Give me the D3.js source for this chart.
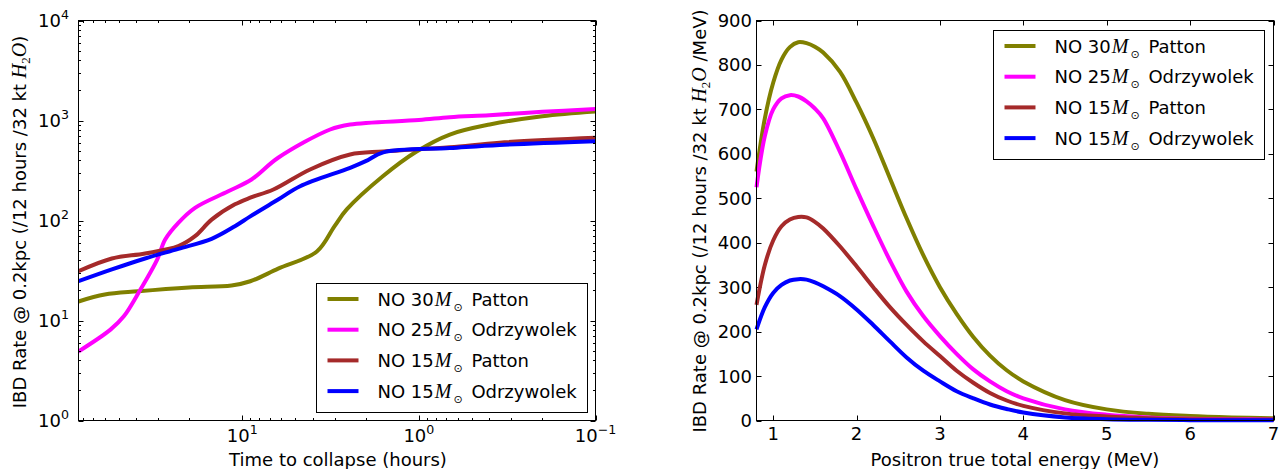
<!DOCTYPE html>
<html><head><meta charset="utf-8">
<script src="https://cdn.jsdelivr.net/npm/d3@7"></script>
<style>
body{margin:0;background:#fff}
text{font-family:"DejaVu Sans",sans-serif;fill:#000}
</style>
</head><body>
<svg id="c" width="1281" height="469"></svg>
<script>
// ---------------- DATA ----------------
const seriesNames = ["NO 30", "NO 25", "NO 15", "NO 15"];
const seriesAuthors = ["Patton", "Odrzywolek", "Patton", "Odrzywolek"];
const seriesColors = ["#808000", "#ff00ff", "#a52a2a", "#0000ff"];

// Left panel: rate vs time to collapse (hours)
const hours30P = [84.5, 60, 38.7, 20, 11.5, 9.0, 6.26, 3.78, 3.0, 2.56, 1.60, 1.03, 0.668, 0.397, 0.2, 0.1];
const rate30P  = [15.5, 18.2, 19.6, 21.4, 22.4, 24.7, 33, 49, 88, 129, 277, 490, 724, 912, 1104, 1230];
const hours25O = [84.5, 55.7, 46.8, 37.7, 30.3, 27.3, 23.0, 18.5, 12.0, 8.86, 6.26, 3.18, 2.45, 1.0, 0.668, 0.4, 0.2, 0.1];
const rate25O  = [4.9, 8.1, 11, 20.4, 40.7, 64.6, 94.8, 134, 196, 257, 424, 813, 912, 1010, 1080, 1130, 1220, 1300];
const hours15P = [84.5, 54.7, 35.5, 23.0, 18.5, 14.9, 11.0, 9.0, 6.66, 4.13, 2.45, 1.59, 0.668, 0.349, 0.1];
const rate15P  = [31.1, 41.7, 46.8, 55.4, 69.7, 102, 145, 169, 204, 324, 457, 490, 540, 600, 671];
const hours15O = [84.5, 54.7, 35.5, 23.0, 14.9, 11.0, 9.0, 6.26, 4.70, 2.45, 2.0, 1.59, 0.668, 0.349, 0.1];
const rate15O  = [24.7, 32.4, 41.7, 52.1, 65.6, 87.7, 110, 162, 220, 336, 392, 480, 530, 570, 621];

// Right panel: spectrum vs positron energy (MeV)
const energy  = [0.8, 0.9, 1.0, 1.1, 1.2, 1.3, 1.4, 1.5, 1.6, 1.8, 2.0, 2.2, 2.4, 2.6, 2.8, 3.0, 3.2, 3.4, 3.6, 3.8, 4.0, 4.5, 5.0, 5.5, 6.0, 6.5, 7.0];
const spec30P = [560, 680, 760, 812, 840, 851, 849, 841, 828, 785, 715, 635, 545, 455, 372, 300, 240, 188, 146, 113, 88, 46, 25, 15, 10, 7, 5];
const spec25O = [525, 640, 700, 725, 732, 729, 718, 702, 680, 605, 520, 438, 360, 290, 235, 190, 150, 115, 88, 66, 50, 25, 13, 7, 4, 3, 2];
const spec15P = [260, 350, 405, 437, 452, 458, 457, 447, 432, 392, 347, 300, 255, 215, 178, 145, 112, 85, 62, 45, 33, 16, 9, 5, 3, 2, 2];
const spec15O = [205, 255, 287, 305, 315, 318, 317, 311, 302, 280, 250, 215, 178, 142, 112, 88, 66, 50, 36, 26, 18, 7, 3, 1.5, 0.8, 0.5, 0.3];

const leftYExps = [0, 1, 2, 3, 4];
const leftXExps = [1, 0, -1];
const rightXTicks = [1, 2, 3, 4, 5, 6, 7];
const rightYTicks = [0, 100, 200, 300, 400, 500, 600, 700, 800, 900];

const leftXLabel = "Time to collapse (hours)";
const rightXLabel = "Positron true total energy (MeV)";
const yLabelPrefix = "IBD Rate @ 0.2kpc (/12 hours /32 kt ";

// ---------------- DRAW ----------------
const svg = d3.select("#c");
const MATH = "'Liberation Serif', 'DejaVu Serif', serif";
const FS = 18;

const L = {x0: 78.5, x1: 595.5, y0: 420.5, y1: 20.5};
const R = {x0: 756.5, x1: 1273.5, y0: 420.5, y1: 20.5};

const xL = d3.scaleLog().domain([84.5, 0.1]).range([L.x0, L.x1]);
const yL = d3.scaleLog().domain([1, 1e4]).range([L.y0, L.y1]);
const xR = d3.scaleLinear().domain([0.8, 7]).range([R.x0, R.x1]);
const yR = d3.scaleLinear().domain([0, 900]).range([R.y0, R.y1]);

function powLabel(t, e) {
  t.append("tspan").text("10");
  t.append("tspan").attr("dy", -8).attr("font-size", 12.6).text(e < 0 ? "\u2212" + (-e) : e);
}

// ---- left panel ----
const gL = svg.append("g");
const leftSeries = [[hours30P, rate30P], [hours25O, rate25O], [hours15P, rate15P], [hours15O, rate15O]];
const lineL = d3.line().x(d => xL(d[0])).y(d => yL(d[1])).curve(d3.curveCatmullRom.alpha(0.5));
gL.append("clipPath").attr("id", "clipL").append("rect")
  .attr("x", L.x0).attr("y", L.y1).attr("width", L.x1 - L.x0).attr("height", L.y0 - L.y1);
leftSeries.forEach((s, i) => {
  const pts = s[0].map((h, j) => [h, s[1][j]]);
  gL.append("path").attr("d", lineL(pts)).attr("fill", "none")
    .attr("stroke", seriesColors[i]).attr("stroke-width", 4).attr("clip-path", "url(#clipL)");
});

// ticks
const tickG = svg.append("g").attr("stroke", "#000").attr("stroke-width", 1);
function vtick(x, y, len) { tickG.append("line").attr("x1", x).attr("x2", x).attr("y1", y).attr("y2", y + len); }
function htick(x, y, len) { tickG.append("line").attr("x1", x).attr("x2", x + len).attr("y1", y).attr("y2", y); }

for (let e = 0; e <= 4; e++) {
  const y = Math.round(yL(Math.pow(10, e))) + 0.5;
  htick(L.x0, y, 5); htick(L.x1, y, -5);
  if (e < 4) for (let m = 2; m <= 9; m++) {
    const ym = Math.round(yL(m * Math.pow(10, e))) + 0.5;
    htick(L.x0, ym, 2.5); htick(L.x1, ym, -2.5);
  }
}
for (let e = -1; e <= 1; e++) {
  const x = Math.round(xL(Math.pow(10, e))) + 0.5;
  vtick(x, L.y0, -5); vtick(x, L.y1, 5);
  for (let m = 2; m <= 9; m++) {
    const v = m * Math.pow(10, e);
    if (v <= 84.5 && v >= 0.1) {
      const xm = Math.round(xL(v)) + 0.5;
      vtick(xm, L.y0, -2.5); vtick(xm, L.y1, 2.5);
    }
  }
}
leftYExps.forEach(e => {
  const t = svg.append("text").attr("x", 69).attr("y", yL(Math.pow(10, e)) + 6.5)
    .attr("text-anchor", "end").attr("font-size", FS);
  powLabel(t, e);
});
leftXExps.forEach(e => {
  const t = svg.append("text").attr("x", xL(Math.pow(10, e))).attr("y", 442)
    .attr("text-anchor", "middle").attr("font-size", FS);
  powLabel(t, e);
});
svg.append("rect").attr("x", L.x0).attr("y", L.y1).attr("width", L.x1 - L.x0).attr("height", L.y0 - L.y1)
  .attr("fill", "none").attr("stroke", "#000");

// ---- right panel ----
const gR = svg.append("g");
const rightSeries = [spec30P, spec25O, spec15P, spec15O];
const lineR = d3.line().x(d => xR(d[0])).y(d => yR(d[1])).curve(d3.curveCatmullRom.alpha(0.5));
rightSeries.forEach((s, i) => {
  const pts = energy.map((e, j) => [e, s[j]]);
  gR.append("path").attr("d", lineR(pts)).attr("fill", "none")
    .attr("stroke", seriesColors[i]).attr("stroke-width", 4);
});
rightXTicks.forEach(v => {
  const x = Math.round(xR(v)) + 0.5;
  vtick(x, R.y0, -5); vtick(x, R.y1, 5);
  svg.append("text").attr("x", xR(v)).attr("y", 440).attr("text-anchor", "middle").attr("font-size", FS).text(v);
});
rightYTicks.forEach(v => {
  const y = Math.round(yR(v)) + 0.5;
  htick(R.x0, y, 5); htick(R.x1, y, -5);
  svg.append("text").attr("x", 752).attr("y", yR(v) + 6.5).attr("text-anchor", "end").attr("font-size", FS).text(v);
});
svg.append("rect").attr("x", R.x0).attr("y", R.y1).attr("width", R.x1 - R.x0).attr("height", R.y0 - R.y1)
  .attr("fill", "none").attr("stroke", "#000");

// ---- axis labels ----
svg.append("text").attr("x", 338).attr("y", 465.5).attr("text-anchor", "middle").attr("font-size", FS).text(leftXLabel);
svg.append("text").attr("x", 1015).attr("y", 465.5).attr("text-anchor", "middle").attr("font-size", FS).text(rightXLabel);

function yLabel(cx, cy, suffix) {
  const t = svg.append("text").attr("transform", `translate(${cx},${cy}) rotate(-90)`)
    .attr("text-anchor", "middle").attr("font-size", FS);
  t.append("tspan").text(yLabelPrefix);
  t.append("tspan").attr("font-family", MATH).attr("font-style", "italic").attr("font-size", 20).text("H");
  t.append("tspan").attr("font-family", MATH).attr("font-size", 13).attr("dy", 3.5).text("2");
  t.append("tspan").attr("font-family", MATH).attr("font-style", "italic").attr("font-size", 20).attr("dy", -3.5).text("O");
  t.append("tspan").text(suffix);
}
yLabel(26, 222, ")");
yLabel(706, 221, " /MeV)");

// ---- legends ----
function legend(bx, by) {
  const g = svg.append("g");
  g.append("rect").attr("x", bx).attr("y", by).attr("width", 271).attr("height", 129)
    .attr("fill", "#fff").attr("stroke", "#000");
  seriesNames.forEach((n, i) => {
    const y = by + 15.5 + i * 30.7;
    g.append("line").attr("x1", bx + 11).attr("x2", bx + 42).attr("y1", y).attr("y2", y)
      .attr("stroke", seriesColors[i]).attr("stroke-width", 4);
    const t = g.append("text").attr("x", bx + 61).attr("y", y + 6.5).attr("font-size", FS);
    t.append("tspan").text(n);
    t.append("tspan").attr("font-family", MATH).attr("font-style", "italic").attr("font-size", 20).attr("dx", 1).text("M");
    t.append("tspan").attr("font-family", "'DejaVu Sans', sans-serif").attr("font-size", 11).attr("dx", 2).attr("dy", 5).text("\u2299");
    t.append("tspan").attr("dy", -5).attr("dx", 3).text(" " + seriesAuthors[i]);
  });
}
legend(316.5, 283.5);
legend(993.5, 30.5);
</script>
</body></html>
